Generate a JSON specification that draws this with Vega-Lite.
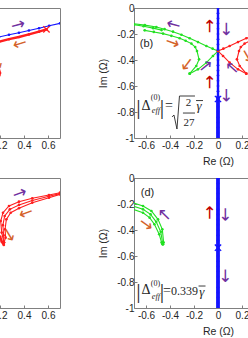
{
"$schema": "https://vega.github.io/schema/vega-lite/v6.json",
"usermeta": {"embedOptions": {"actions": false}},
"padding": {"left": -144, "top": 1, "right": -55, "bottom": 0},
"background": "white",
"data": {"values": [
{"p":"a","t":"L","s":"a1","k":"z","x":0.1,"y":-0.24},{"p":"a","t":"L","s":"a1","k":"z","x":0.192,"y":-0.223},{"p":"a","t":"L","s":"a1","k":"z","x":0.275,"y":-0.206},{"p":"a","t":"L","s":"a1","k":"z","x":0.358,"y":-0.19},{"p":"a","t":"L","s":"a1","k":"z","x":0.441,"y":-0.173},{"p":"a","t":"L","s":"a1","k":"z","x":0.525,"y":-0.156},{"p":"a","t":"L","s":"a1","k":"z","x":0.61,"y":-0.137},{"p":"a","t":"L","s":"a1","k":"z","x":0.7,"y":-0.118},
{"p":"a","t":"T","s":"a2","k":"p","x":0.1,"y":-0.278},{"p":"a","t":"T","s":"a2","k":"p","x":0.192,"y":-0.259},{"p":"a","t":"T","s":"a2","k":"p","x":0.275,"y":-0.24},{"p":"a","t":"T","s":"a2","k":"p","x":0.358,"y":-0.223},{"p":"a","t":"T","s":"a2","k":"p","x":0.441,"y":-0.203},{"p":"a","t":"T","s":"a2","k":"p","x":0.525,"y":-0.182},{"p":"a","t":"T","s":"a2","k":"p","x":0.587,"y":-0.164},
{"p":"a","t":"T","s":"a3","k":"p","x":0.12,"y":-0.36},{"p":"a","t":"T","s":"a3","k":"p","x":0.16,"y":-0.42},{"p":"a","t":"T","s":"a3","k":"p","x":0.19,"y":-0.47},{"p":"a","t":"T","s":"a3","k":"p","x":0.2,"y":-0.5},{"p":"a","t":"T","s":"a3","k":"p","x":0.193,"y":-0.52},
{"p":"a","t":"X","k":"p","x":0.587,"y":-0.164},
{"p":"a","t":"A","k":"f","x":0.35,"y":-0.131,"dir":345},{"p":"a","t":"A","k":"w","x":0.364,"y":-0.272,"dir":163},{"p":"a","t":"A","k":"w","x":0.175,"y":-0.42,"dir":60},

{"p":"b","t":"L","s":"b1","k":"m","x":-0.708,"y":-0.12},{"p":"b","t":"L","s":"b1","k":"m","x":-0.61,"y":-0.132},{"p":"b","t":"L","s":"b1","k":"m","x":-0.514,"y":-0.146},{"p":"b","t":"L","s":"b1","k":"m","x":-0.445,"y":-0.163},{"p":"b","t":"L","s":"b1","k":"m","x":-0.375,"y":-0.182},{"p":"b","t":"L","s":"b1","k":"m","x":-0.305,"y":-0.206},{"p":"b","t":"L","s":"b1","k":"m","x":-0.236,"y":-0.233},{"p":"b","t":"L","s":"b1","k":"m","x":-0.167,"y":-0.262},{"p":"b","t":"L","s":"b1","k":"m","x":-0.097,"y":-0.292},{"p":"b","t":"L","s":"b1","k":"m","x":-0.045,"y":-0.313},{"p":"b","t":"L","s":"b1","k":"m","x":0,"y":-0.331},
{"p":"b","t":"L","s":"b2","k":"m","x":-0.611,"y":-0.172},{"p":"b","t":"L","s":"b2","k":"m","x":-0.535,"y":-0.184},{"p":"b","t":"L","s":"b2","k":"m","x":-0.458,"y":-0.197},{"p":"b","t":"L","s":"b2","k":"m","x":-0.389,"y":-0.214},{"p":"b","t":"L","s":"b2","k":"m","x":-0.319,"y":-0.233},{"p":"b","t":"L","s":"b2","k":"m","x":-0.27,"y":-0.252},{"p":"b","t":"L","s":"b2","k":"m","x":-0.222,"y":-0.274},{"p":"b","t":"L","s":"b2","k":"m","x":-0.19,"y":-0.3},{"p":"b","t":"L","s":"b2","k":"m","x":-0.175,"y":-0.331},{"p":"b","t":"L","s":"b2","k":"m","x":-0.158,"y":-0.395},{"p":"b","t":"L","s":"b2","k":"m","x":-0.181,"y":-0.446},{"p":"b","t":"L","s":"b2","k":"m","x":-0.236,"y":-0.505},
{"p":"b","t":"L","s":"b3","k":"m","x":-0.236,"y":-0.505},{"p":"b","t":"L","s":"b3","k":"m","x":-0.167,"y":-0.472},{"p":"b","t":"L","s":"b3","k":"m","x":-0.097,"y":-0.42},{"p":"b","t":"L","s":"b3","k":"m","x":-0.042,"y":-0.369},{"p":"b","t":"L","s":"b3","k":"m","x":0,"y":-0.331},
{"p":"b","t":"L","s":"b4","k":"m","x":-0.7,"y":-0.128},{"p":"b","t":"L","s":"b4","k":"m","x":-0.62,"y":-0.14},{"p":"b","t":"L","s":"b4","k":"m","x":-0.54,"y":-0.155},{"p":"b","t":"L","s":"b4","k":"m","x":-0.47,"y":-0.17},
{"p":"b","t":"L","s":"b5","k":"p","x":0.708,"y":-0.12},{"p":"b","t":"L","s":"b5","k":"p","x":0.61,"y":-0.132},{"p":"b","t":"L","s":"b5","k":"p","x":0.514,"y":-0.146},{"p":"b","t":"L","s":"b5","k":"p","x":0.445,"y":-0.163},{"p":"b","t":"L","s":"b5","k":"p","x":0.375,"y":-0.182},{"p":"b","t":"L","s":"b5","k":"p","x":0.305,"y":-0.206},{"p":"b","t":"L","s":"b5","k":"p","x":0.236,"y":-0.233},{"p":"b","t":"L","s":"b5","k":"p","x":0.167,"y":-0.262},{"p":"b","t":"L","s":"b5","k":"p","x":0.097,"y":-0.292},{"p":"b","t":"L","s":"b5","k":"p","x":0.045,"y":-0.313},{"p":"b","t":"L","s":"b5","k":"p","x":0,"y":-0.331},
{"p":"b","t":"L","s":"b6","k":"p","x":0.611,"y":-0.172},{"p":"b","t":"L","s":"b6","k":"p","x":0.535,"y":-0.184},{"p":"b","t":"L","s":"b6","k":"p","x":0.458,"y":-0.197},{"p":"b","t":"L","s":"b6","k":"p","x":0.389,"y":-0.214},{"p":"b","t":"L","s":"b6","k":"p","x":0.319,"y":-0.233},{"p":"b","t":"L","s":"b6","k":"p","x":0.27,"y":-0.252},{"p":"b","t":"L","s":"b6","k":"p","x":0.222,"y":-0.274},{"p":"b","t":"L","s":"b6","k":"p","x":0.19,"y":-0.3},{"p":"b","t":"L","s":"b6","k":"p","x":0.175,"y":-0.331},{"p":"b","t":"L","s":"b6","k":"p","x":0.158,"y":-0.395},{"p":"b","t":"L","s":"b6","k":"p","x":0.181,"y":-0.446},{"p":"b","t":"L","s":"b6","k":"p","x":0.236,"y":-0.505},
{"p":"b","t":"L","s":"b7","k":"p","x":0.236,"y":-0.505},{"p":"b","t":"L","s":"b7","k":"p","x":0.167,"y":-0.472},{"p":"b","t":"L","s":"b7","k":"p","x":0.097,"y":-0.42},{"p":"b","t":"L","s":"b7","k":"p","x":0.042,"y":-0.369},{"p":"b","t":"L","s":"b7","k":"p","x":0,"y":-0.331},
{"p":"b","t":"T","s":"bz1","k":"z","x":0,"y":0},{"p":"b","t":"T","s":"bz1","k":"z","x":0,"y":-0.04},{"p":"b","t":"T","s":"bz1","k":"z","x":0,"y":-0.08},{"p":"b","t":"T","s":"bz1","k":"z","x":0,"y":-0.12},{"p":"b","t":"T","s":"bz1","k":"z","x":0,"y":-0.16},{"p":"b","t":"T","s":"bz1","k":"z","x":0,"y":-0.2},{"p":"b","t":"T","s":"bz1","k":"z","x":0,"y":-0.24},{"p":"b","t":"T","s":"bz1","k":"z","x":0,"y":-0.28},{"p":"b","t":"T","s":"bz1","k":"z","x":0,"y":-0.32},{"p":"b","t":"T","s":"bz1","k":"z","x":0,"y":-0.36},{"p":"b","t":"T","s":"bz1","k":"z","x":0,"y":-0.4},{"p":"b","t":"T","s":"bz1","k":"z","x":0,"y":-0.44},{"p":"b","t":"T","s":"bz1","k":"z","x":0,"y":-0.48},{"p":"b","t":"T","s":"bz1","k":"z","x":0,"y":-0.52},{"p":"b","t":"T","s":"bz1","k":"z","x":0,"y":-0.56},{"p":"b","t":"T","s":"bz1","k":"z","x":0,"y":-0.6},{"p":"b","t":"T","s":"bz1","k":"z","x":0,"y":-0.64},{"p":"b","t":"T","s":"bz1","k":"z","x":0,"y":-0.68},
{"p":"b","t":"B","s":"bz2","k":"z","x":0,"y":-0.68},{"p":"b","t":"B","s":"bz2","k":"z","x":0,"y":-0.72},{"p":"b","t":"B","s":"bz2","k":"z","x":0,"y":-0.76},{"p":"b","t":"B","s":"bz2","k":"z","x":0,"y":-0.8},{"p":"b","t":"B","s":"bz2","k":"z","x":0,"y":-0.84},{"p":"b","t":"B","s":"bz2","k":"z","x":0,"y":-0.88},{"p":"b","t":"B","s":"bz2","k":"z","x":0,"y":-0.92},{"p":"b","t":"B","s":"bz2","k":"z","x":0,"y":-0.96},{"p":"b","t":"B","s":"bz2","k":"z","x":0,"y":-1},
{"p":"b","t":"X","k":"z","x":0,"y":-0.7},
{"p":"b","t":"A","k":"f","x":-0.37,"y":-0.125,"dir":195},{"p":"b","t":"A","k":"w","x":-0.38,"y":-0.27,"dir":20},{"p":"b","t":"A","k":"w","x":-0.26,"y":-0.43,"dir":127},{"p":"b","t":"A","k":"j","x":-0.064,"y":-0.14,"dir":270},{"p":"b","t":"A","k":"f","x":0.064,"y":-0.16,"dir":90},{"p":"b","t":"A","k":"f","x":-0.1,"y":-0.45,"dir":321},{"p":"b","t":"A","k":"f","x":0.12,"y":-0.46,"dir":222},{"p":"b","t":"A","k":"j","x":-0.064,"y":-0.57,"dir":270},{"p":"b","t":"A","k":"f","x":0.064,"y":-0.67,"dir":90},{"p":"b","t":"A","k":"w","x":0.24,"y":-0.37,"dir":60},
{"p":"b","t":"P","x":-0.596,"y":-0.28,"txt":"(b)"},
{"p":"b","t":"F4","x":-0.6625,"y":-0.758,"txt":"|"},{"p":"b","t":"F4","x":-0.467,"y":-0.758,"txt":"|"},
{"p":"b","t":"F1","x":-0.6,"y":-0.754,"txt":"Δ"},{"p":"b","t":"F1","x":-0.408,"y":-0.754,"txt":"="},
{"p":"b","t":"F2","x":-0.521,"y":-0.696,"txt":"(0)"},{"p":"b","t":"F3","x":-0.517,"y":-0.781,"txt":"eff"},
{"p":"b","t":"F5","x":-0.246,"y":-0.731,"txt":"2"},{"p":"b","t":"F5","x":-0.242,"y":-0.888,"txt":"27"},
{"p":"b","t":"F6","x":-0.158,"y":-0.754,"txt":"γ"},
{"p":"b","t":"G","s":"gb1","x":-0.383,"y":-0.838},{"p":"b","t":"G","s":"gb1","x":-0.367,"y":-0.823},{"p":"b","t":"G","s":"gb1","x":-0.342,"y":-0.931},{"p":"b","t":"G","s":"gb1","x":-0.321,"y":-0.677},{"p":"b","t":"G","s":"gb1","x":-0.192,"y":-0.677},
{"p":"b","t":"G","s":"gb2","x":-0.292,"y":-0.808},{"p":"b","t":"G","s":"gb2","x":-0.192,"y":-0.808},
{"p":"b","t":"G","s":"gb3","x":-0.183,"y":-0.712},{"p":"b","t":"G","s":"gb3","x":-0.125,"y":-0.712},

{"p":"c","t":"L","s":"c1","k":"p","x":0.7,"y":-0.113},{"p":"c","t":"L","s":"c1","k":"p","x":0.608,"y":-0.131},{"p":"c","t":"L","s":"c1","k":"p","x":0.469,"y":-0.156},{"p":"c","t":"L","s":"c1","k":"p","x":0.358,"y":-0.182},{"p":"c","t":"L","s":"c1","k":"p","x":0.275,"y":-0.215},{"p":"c","t":"L","s":"c1","k":"p","x":0.225,"y":-0.267},{"p":"c","t":"L","s":"c1","k":"p","x":0.206,"y":-0.331},{"p":"c","t":"L","s":"c1","k":"p","x":0.214,"y":-0.42},{"p":"c","t":"L","s":"c1","k":"p","x":0.233,"y":-0.497},
{"p":"c","t":"L","s":"c2","k":"p","x":0.7,"y":-0.126},{"p":"c","t":"L","s":"c2","k":"p","x":0.608,"y":-0.152},{"p":"c","t":"L","s":"c2","k":"p","x":0.469,"y":-0.19},{"p":"c","t":"L","s":"c2","k":"p","x":0.358,"y":-0.233},{"p":"c","t":"L","s":"c2","k":"p","x":0.289,"y":-0.267},{"p":"c","t":"L","s":"c2","k":"p","x":0.253,"y":-0.318},{"p":"c","t":"L","s":"c2","k":"p","x":0.242,"y":-0.395},{"p":"c","t":"L","s":"c2","k":"p","x":0.247,"y":-0.459},{"p":"c","t":"L","s":"c2","k":"p","x":0.233,"y":-0.497},
{"p":"c","t":"L","s":"c3","k":"p","x":0.7,"y":-0.12},{"p":"c","t":"L","s":"c3","k":"p","x":0.608,"y":-0.141},{"p":"c","t":"L","s":"c3","k":"p","x":0.469,"y":-0.173},{"p":"c","t":"L","s":"c3","k":"p","x":0.358,"y":-0.207},{"p":"c","t":"L","s":"c3","k":"p","x":0.282,"y":-0.241},{"p":"c","t":"L","s":"c3","k":"p","x":0.239,"y":-0.292},{"p":"c","t":"L","s":"c3","k":"p","x":0.224,"y":-0.363},{"p":"c","t":"L","s":"c3","k":"p","x":0.23,"y":-0.44},{"p":"c","t":"L","s":"c3","k":"p","x":0.233,"y":-0.497},
{"p":"c","t":"T","s":"c4","k":"p","x":0.2,"y":-0.45},{"p":"c","t":"T","s":"c4","k":"p","x":0.215,"y":-0.49},{"p":"c","t":"T","s":"c4","k":"p","x":0.232,"y":-0.515},
{"p":"c","t":"A","k":"f","x":0.364,"y":-0.12,"dir":340},{"p":"c","t":"A","k":"w","x":0.414,"y":-0.267,"dir":160},{"p":"c","t":"A","k":"w","x":0.275,"y":-0.438,"dir":59},

{"p":"d","t":"L","s":"d1","k":"m","x":-0.71,"y":-0.19},{"p":"d","t":"L","s":"d1","k":"m","x":-0.625,"y":-0.215},{"p":"d","t":"L","s":"d1","k":"m","x":-0.555,"y":-0.254},{"p":"d","t":"L","s":"d1","k":"m","x":-0.5,"y":-0.318},{"p":"d","t":"L","s":"d1","k":"m","x":-0.464,"y":-0.395},{"p":"d","t":"L","s":"d1","k":"m","x":-0.453,"y":-0.497},{"p":"d","t":"L","s":"d1","k":"m","x":-0.46,"y":-0.51},
{"p":"d","t":"L","s":"d2","k":"m","x":-0.71,"y":-0.24},{"p":"d","t":"L","s":"d2","k":"m","x":-0.625,"y":-0.267},{"p":"d","t":"L","s":"d2","k":"m","x":-0.57,"y":-0.305},{"p":"d","t":"L","s":"d2","k":"m","x":-0.53,"y":-0.356},{"p":"d","t":"L","s":"d2","k":"m","x":-0.49,"y":-0.433},{"p":"d","t":"L","s":"d2","k":"m","x":-0.47,"y":-0.497},{"p":"d","t":"L","s":"d2","k":"m","x":-0.46,"y":-0.51},
{"p":"d","t":"L","s":"d3","k":"m","x":-0.71,"y":-0.215},{"p":"d","t":"L","s":"d3","k":"m","x":-0.625,"y":-0.241},{"p":"d","t":"L","s":"d3","k":"m","x":-0.562,"y":-0.28},{"p":"d","t":"L","s":"d3","k":"m","x":-0.515,"y":-0.337},{"p":"d","t":"L","s":"d3","k":"m","x":-0.477,"y":-0.414},{"p":"d","t":"L","s":"d3","k":"m","x":-0.462,"y":-0.497},{"p":"d","t":"L","s":"d3","k":"m","x":-0.46,"y":-0.51},
{"p":"d","t":"B","s":"dz","k":"z","x":0,"y":0},{"p":"d","t":"B","s":"dz","k":"z","x":0,"y":-0.04},{"p":"d","t":"B","s":"dz","k":"z","x":0,"y":-0.08},{"p":"d","t":"B","s":"dz","k":"z","x":0,"y":-0.12},{"p":"d","t":"B","s":"dz","k":"z","x":0,"y":-0.16},{"p":"d","t":"B","s":"dz","k":"z","x":0,"y":-0.2},{"p":"d","t":"B","s":"dz","k":"z","x":0,"y":-0.24},{"p":"d","t":"B","s":"dz","k":"z","x":0,"y":-0.28},{"p":"d","t":"B","s":"dz","k":"z","x":0,"y":-0.32},{"p":"d","t":"B","s":"dz","k":"z","x":0,"y":-0.36},{"p":"d","t":"B","s":"dz","k":"z","x":0,"y":-0.4},{"p":"d","t":"B","s":"dz","k":"z","x":0,"y":-0.44},{"p":"d","t":"B","s":"dz","k":"z","x":0,"y":-0.48},{"p":"d","t":"B","s":"dz","k":"z","x":0,"y":-0.52},{"p":"d","t":"B","s":"dz","k":"z","x":0,"y":-0.56},{"p":"d","t":"B","s":"dz","k":"z","x":0,"y":-0.6},{"p":"d","t":"B","s":"dz","k":"z","x":0,"y":-0.64},{"p":"d","t":"B","s":"dz","k":"z","x":0,"y":-0.68},{"p":"d","t":"B","s":"dz","k":"z","x":0,"y":-0.72},{"p":"d","t":"B","s":"dz","k":"z","x":0,"y":-0.76},{"p":"d","t":"B","s":"dz","k":"z","x":0,"y":-0.8},{"p":"d","t":"B","s":"dz","k":"z","x":0,"y":-0.84},{"p":"d","t":"B","s":"dz","k":"z","x":0,"y":-0.88},{"p":"d","t":"B","s":"dz","k":"z","x":0,"y":-0.92},{"p":"d","t":"B","s":"dz","k":"z","x":0,"y":-0.96},{"p":"d","t":"B","s":"dz","k":"z","x":0,"y":-1},
{"p":"d","t":"X","k":"z","x":0,"y":-0.536},
{"p":"d","t":"A","k":"f","x":-0.444,"y":-0.28,"dir":225},{"p":"d","t":"A","k":"w","x":-0.6,"y":-0.36,"dir":35},{"p":"d","t":"A","k":"j","x":-0.064,"y":-0.267,"dir":270},{"p":"d","t":"A","k":"f","x":0.056,"y":-0.28,"dir":90},{"p":"d","t":"A","k":"f","x":0.056,"y":-0.75,"dir":90},
{"p":"d","t":"P","x":-0.5875,"y":-0.119,"txt":"(d)"},
{"p":"d","t":"F4","x":-0.6625,"y":-0.873,"txt":"|"},{"p":"d","t":"F4","x":-0.467,"y":-0.873,"txt":"|"},
{"p":"d","t":"F1","x":-0.6,"y":-0.862,"txt":"Δ"},{"p":"d","t":"F1","x":-0.425,"y":-0.869,"txt":"="},
{"p":"d","t":"F2","x":-0.521,"y":-0.819,"txt":"(0)"},{"p":"d","t":"F3","x":-0.517,"y":-0.904,"txt":"eff"},
{"p":"d","t":"F7","x":-0.392,"y":-0.872,"txt":"0.339"},
{"p":"d","t":"F6","x":-0.135,"y":-0.877,"txt":"γ"},
{"p":"d","t":"G","s":"gd1","x":-0.162,"y":-0.831},{"p":"d","t":"G","s":"gd1","x":-0.104,"y":-0.831}
]},
"facet": {"field": "p", "type": "nominal", "header": {"labels": false, "title": null, "labelExpr": "''", "labelFontSize": 1, "labelPadding": 0, "titlePadding": 0}},
"columns": 2,
"spacing": {"row": 4, "column": 37},
"resolve": {"axis": {"x": "independent", "y": "independent"}},
"spec": {
  "width": 168,
  "height": 130,
  "encoding": {
    "x": {"field": "x", "type": "quantitative", "scale": {"domain": [-0.7, 0.7], "nice": false, "zero": false},
          "axis": {"title": "Re (Ω)", "values": [-0.6,-0.4,-0.2,0,0.2,0.4,0.6], "labelExpr": "'' + datum.value", "labelPadding": 5, "titlePadding": 6}},
    "y": {"field": "y", "type": "quantitative", "scale": {"domain": [-1, 0], "nice": false, "zero": false},
          "axis": {"title": "Im (Ω)", "values": [-1,-0.8,-0.6,-0.4,-0.2,0], "labelExpr": "'' + datum.value", "labelPadding": 3, "titlePadding": 8}}
  },
  "layer": [
    {"transform": [{"filter": "datum.t == 'L'"}],
     "mark": {"type": "line", "strokeWidth": 1.1, "clip": true},
     "encoding": {"detail": {"field": "s"}, "order": {"value": null},
       "color": {"field": "k", "type": "nominal", "legend": null, "scale": {"domain": ["m","p","z","f","w","j"], "range": ["#22e022","#ff1e1e","#1414ff","#7030a0","#d4622a","#c00000"]}}}},
    {"transform": [{"filter": "datum.t == 'T'"}],
     "mark": {"type": "line", "strokeWidth": 2.4, "clip": true},
     "encoding": {"detail": {"field": "s"}, "order": {"value": null},
       "color": {"field": "k", "type": "nominal", "legend": null}}},
    {"transform": [{"filter": "datum.t == 'B'"}],
     "mark": {"type": "line", "strokeWidth": 3.8, "clip": true},
     "encoding": {"detail": {"field": "s"}, "order": {"value": null},
       "color": {"field": "k", "type": "nominal", "legend": null}}},
    {"transform": [{"filter": "datum.t == 'L' || datum.t == 'T' || datum.t == 'B'"}],
     "mark": {"type": "point", "filled": true, "size": 7, "opacity": 1, "clip": true},
     "encoding": {"color": {"field": "k", "type": "nominal", "legend": null}}},
    {"transform": [{"filter": "datum.t == 'X'"}],
     "mark": {"type": "point", "shape": "M-1,-1L1,1M-1,1L1,-1", "filled": false, "size": 40, "strokeWidth": 1.3, "opacity": 1},
     "encoding": {"color": {"field": "k", "type": "nominal", "legend": null}}},
    {"transform": [{"filter": "datum.t == 'A'"}],
     "mark": {"type": "text", "text": "→", "font": "DejaVu Sans", "fontSize": 17, "align": "center", "baseline": "middle"},
     "encoding": {"color": {"field": "k", "type": "nominal", "legend": null},
       "angle": {"field": "dir", "type": "quantitative", "scale": null}}},
    {"transform": [{"filter": "datum.t == 'P'"}],
     "mark": {"type": "text", "font": "Liberation Sans", "fontSize": 11, "color": "#262626", "align": "center", "baseline": "middle"},
     "encoding": {"text": {"field": "txt"}}},
    {"transform": [{"filter": "datum.t == 'F1'"}],
     "mark": {"type": "text", "font": "Liberation Serif", "fontSize": 14, "color": "#262626", "align": "center", "baseline": "middle"},
     "encoding": {"text": {"field": "txt"}}},
    {"transform": [{"filter": "datum.t == 'F2'"}],
     "mark": {"type": "text", "font": "Liberation Serif", "fontSize": 8, "color": "#262626", "align": "center", "baseline": "middle"},
     "encoding": {"text": {"field": "txt"}}},
    {"transform": [{"filter": "datum.t == 'F3'"}],
     "mark": {"type": "text", "font": "Liberation Serif", "fontStyle": "italic", "fontSize": 8.5, "color": "#262626", "align": "center", "baseline": "middle"},
     "encoding": {"text": {"field": "txt"}}},
    {"transform": [{"filter": "datum.t == 'F4'"}],
     "mark": {"type": "text", "font": "Liberation Serif", "fontSize": 22, "color": "#262626", "align": "center", "baseline": "middle"},
     "encoding": {"text": {"field": "txt"}}},
    {"transform": [{"filter": "datum.t == 'F5'"}],
     "mark": {"type": "text", "font": "Liberation Serif", "fontSize": 11, "color": "#262626", "align": "center", "baseline": "middle"},
     "encoding": {"text": {"field": "txt"}}},
    {"transform": [{"filter": "datum.t == 'F6'"}],
     "mark": {"type": "text", "font": "Liberation Serif", "fontStyle": "italic", "fontSize": 13, "color": "#262626", "align": "center", "baseline": "middle"},
     "encoding": {"text": {"field": "txt"}}},
    {"transform": [{"filter": "datum.t == 'F7'"}],
     "mark": {"type": "text", "font": "Liberation Serif", "fontSize": 12, "color": "#262626", "align": "left", "baseline": "middle"},
     "encoding": {"text": {"field": "txt"}}},
    {"transform": [{"filter": "datum.t == 'G'"}],
     "mark": {"type": "line", "strokeWidth": 0.9, "color": "#262626"},
     "encoding": {"detail": {"field": "s"}, "order": {"value": null}}}
  ]
},
"config": {
  "header": {"labels": false, "title": null, "labelPadding": 0, "titlePadding": 0},
  "view": {"stroke": "#808080", "strokeWidth": 1},
  "axis": {"labelFont": "Liberation Sans", "labelFontSize": 10, "labelColor": "#262626", "titleFont": "Liberation Sans", "titleFontSize": 10.5, "titleFontWeight": "normal", "titleColor": "#262626", "grid": false, "domain": false, "tickColor": "#808080", "tickSize": -3, "tickWidth": 1}
}
}
